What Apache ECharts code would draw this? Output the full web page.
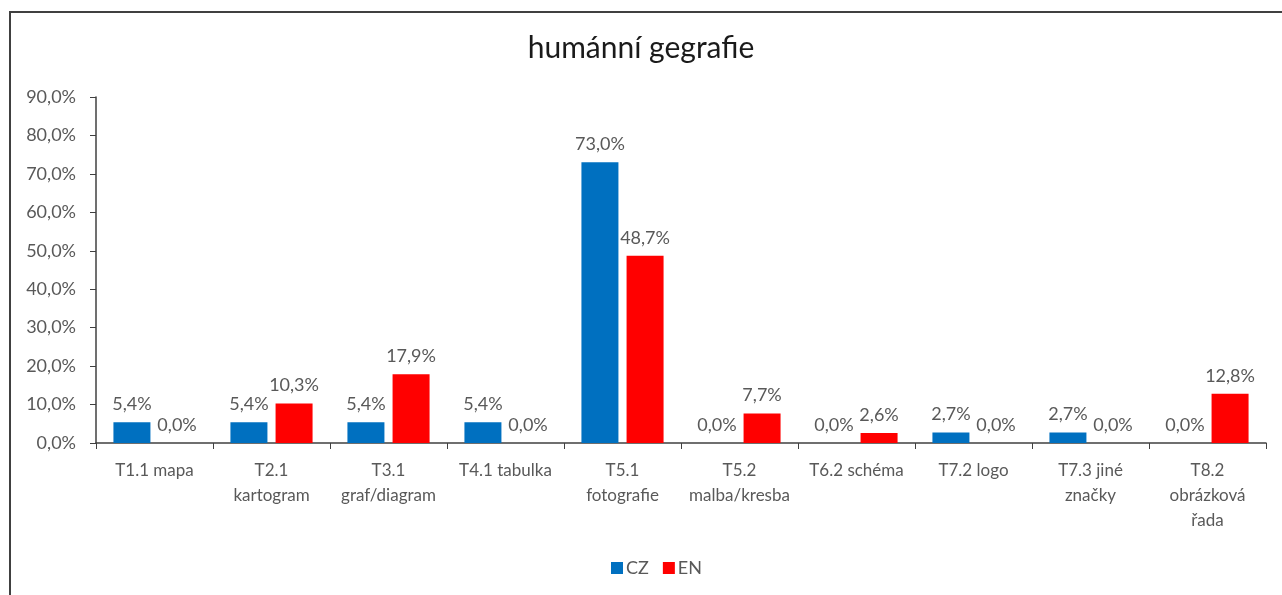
<!DOCTYPE html>
<html>
<head>
<meta charset="utf-8">
<script src="https://cdn.jsdelivr.net/npm/echarts@6/dist/echarts.min.js"></script>
<style>
  html, body { margin: 0; padding: 0; background: #fff; }
  #chart { width: 1282px; height: 595px; }
</style>
</head>
<body>
<div id="chart"></div>
<script>
const categories = [
  'T1.1 mapa',
  'T2.1\nkartogram',
  'T3.1\ngraf/diagram',
  'T4.1 tabulka',
  'T5.1\nfotografie',
  'T5.2\nmalba/kresba',
  'T6.2 schéma',
  'T7.2 logo',
  'T7.3 jiné\nznačky',
  'T8.2\nobrázková\nřada'
]
const czValues = [5.4, 5.4, 5.4, 5.4, 73.0, 0.0, 0.0, 2.7, 2.7, 0.0]
const enValues = [0.0, 10.3, 17.9, 0.0, 48.7, 7.7, 2.6, 0.0, 0.0, 12.8]

const fmt = v => v.toFixed(1).replace('.', ',') + '%'
const font = 'Lato, "Open Sans", sans-serif'
const grey = '#595959'

const chart = echarts.init(document.getElementById('chart'))

const barStyle = {
  type: 'bar',
  barWidth: 37,
  barGap: '22%',
  label: {
    show: true,
    position: 'top',
    distance: 9,
    color: grey,
    fontFamily: font,
    fontSize: 18,
    formatter: p => fmt(p.value)
  }
}

chart.setOption({
  animation: false,
  textStyle: { fontFamily: font },
  title: {
    text: 'humánní gegrafie',
    left: 'center',
    top: 28,
    textStyle: { fontFamily: font, fontSize: 30, fontWeight: 'normal', color: '#1a1a1a' }
  },
  graphic: [{
    type: 'polyline',
    shape: { points: [[10, 600], [10, 12], [1290, 12]] },
    style: { stroke: '#404040', lineWidth: 2, fill: null }
  }],
  grid: { left: 96, right: 16, top: 97, bottom: 152 },
  legend: {
    bottom: 13,
    left: 606,
    itemWidth: 12,
    itemHeight: 12,
    itemGap: 14,
    icon: 'rect',
    textStyle: { color: grey, fontFamily: font, fontSize: 18, padding: [0, 0, 0, -2] },
    data: ['CZ', 'EN']
  },
  xAxis: {
    type: 'category',
    data: categories,
    axisLine: { lineStyle: { color: '#404040', width: 1.5 } },
    axisTick: { show: true, length: 6, lineStyle: { color: '#404040' } },
    axisLabel: {
      color: grey,
      fontFamily: font,
      fontSize: 17,
      lineHeight: 25,
      margin: 15,
      interval: 0
    }
  },
  yAxis: {
    type: 'value',
    min: 0,
    max: 90,
    interval: 10,
    splitLine: { show: false },
    axisLine: { show: true, lineStyle: { color: '#404040', width: 1.5 } },
    axisTick: { show: true, length: 6, lineStyle: { color: '#404040' } },
    axisLabel: {
      color: grey,
      fontFamily: font,
      fontSize: 18,
      margin: 20,
      formatter: v => fmt(v)
    }
  },
  series: [
    Object.assign({ name: 'CZ', data: czValues, itemStyle: { color: '#0070C0' } }, barStyle),
    Object.assign({ name: 'EN', data: enValues, itemStyle: { color: '#FF0000' } }, barStyle)
  ]
})
</script>
</body>
</html>
